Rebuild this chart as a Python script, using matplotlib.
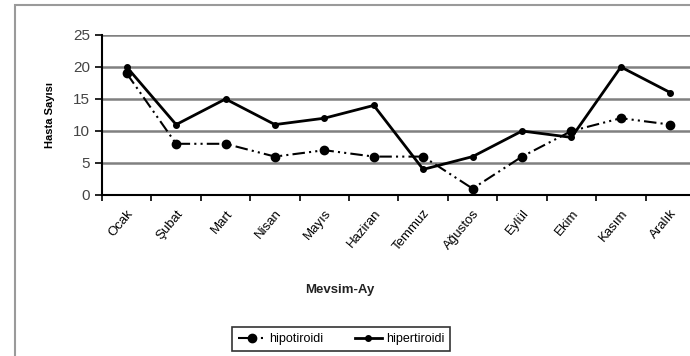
import matplotlib.pyplot as plt
from matplotlib.patches import Rectangle

plt.rcParams['font.family'] = ['Liberation Sans', 'DejaVu Sans']

aylar = ['Ocak', 'Şubat', 'Mart', 'Nisan', 'Mayıs', 'Haziran', 'Temmuz',
         'Ağustos', 'Eylül', 'Ekim', 'Kasım', 'Aralık']
hipotiroidi = [19, 8, 8, 6, 7, 6, 6, 1, 6, 10, 12, 11]
hipertiroidi = [20, 11, 15, 11, 12, 14, 4, 6, 10, 9, 20, 16]
y_ticks = [0, 5, 10, 15, 20, 25]

fig = plt.figure(figsize=(6.9, 3.56), dpi=100)
# outer chart frame
fig.patches.append(Rectangle((15 / 690, -0.05), 1.0, 1 - 5 / 356 + 0.05,
                             transform=fig.transFigure, fill=False,
                             edgecolor='#9a9a9a', linewidth=1.5))

ax = fig.add_axes([102 / 690, 1 - 195 / 356, 593 / 690, 160 / 356])
x = list(range(len(aylar)))

for g in y_ticks[1:]:
    ax.axhline(g, color='#808080', linewidth=1.8, zorder=1)

ax.plot(x, hipotiroidi, color='black', linewidth=1.5,
        linestyle=(0, (6, 2, 1, 2, 1, 2)), marker='o', markersize=6,
        label='hipotiroidi', zorder=3)
ax.plot(x, hipertiroidi, color='black', linewidth=2, linestyle='-',
        marker='o', markersize=4, label='hipertiroidi', zorder=3)

ax.set_xlim(-0.5, len(aylar) - 0.5)
ax.set_ylim(0, 25)
ax.set_yticks(y_ticks)
ax.set_xticks([i - 0.5 for i in range(len(aylar) + 1)])
ax.set_xticklabels([])
ax.set_xticks(x, minor=True)
ax.set_xticklabels(aylar, minor=True, rotation=50, ha='right',
                   rotation_mode='anchor', fontsize=9.5)
ax.tick_params(axis='x', which='minor', length=0, pad=9)
ax.tick_params(axis='x', which='major', length=4, width=1.2, direction='out')
ax.tick_params(axis='y', length=5, width=1.2, direction='out', labelsize=11,
               labelcolor='#444444')

for s in ['top', 'right']:
    ax.spines[s].set_visible(False)
ax.spines['left'].set_linewidth(1.5)
ax.spines['bottom'].set_linewidth(1.5)

fig.text(340 / 690, 1 - 290 / 356, 'Mevsim-Ay', ha='center', va='center',
         fontsize=9.5, fontweight='bold', color='#222222')
fig.text(50 / 690, 1 - 115 / 356, 'Hasta Sayısı', rotation=90,
         ha='center', va='center', fontsize=8, fontweight='bold')

leg = fig.legend(loc='center', bbox_to_anchor=(341 / 690, 1 - 339 / 356),
                 ncol=2, fontsize=9, frameon=True, fancybox=False,
                 handlelength=2.2, handletextpad=0.3, columnspacing=2.5,
                 borderpad=0.5)
leg.get_frame().set_edgecolor('black')
leg.get_frame().set_linewidth(1.2)

fig.savefig('out.png', dpi=100)
